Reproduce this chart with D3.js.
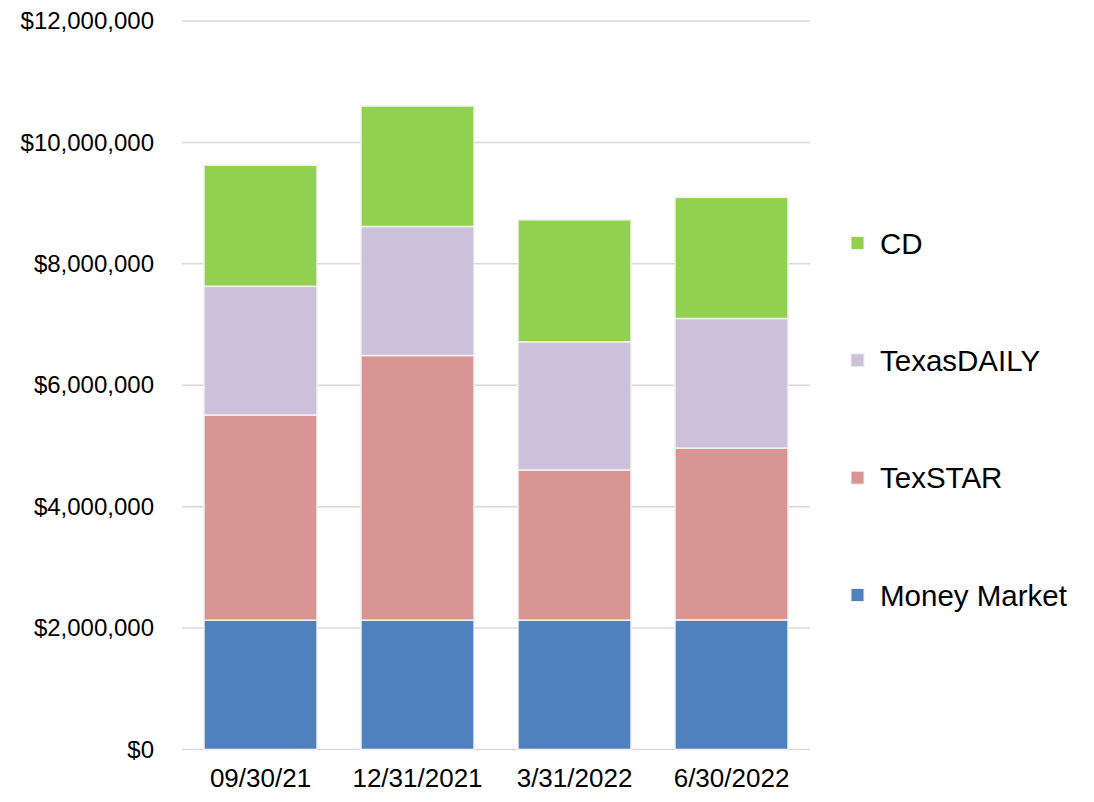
<!DOCTYPE html>
<html>
<head>
<meta charset="utf-8">
<script src="https://cdn.jsdelivr.net/npm/d3@7"></script>
<style>
  html, body { margin: 0; padding: 0; background: #ffffff; }
  svg { display: block; font-family: "Liberation Sans", Arial, sans-serif; }
</style>
</head>
<body>
<svg id="chart" width="1094" height="802"></svg>
<script>
// Quarter-end balances by investment type
const categories = ["09/30/21", "12/31/2021", "3/31/2022", "6/30/2022"];
const seriesNames = ["Money Market", "TexSTAR", "TexasDAILY", "CD"];
const moneyMarket = [2130000, 2130000, 2130000, 2135000];
const texStar     = [3380000, 4360000, 2475000, 2830000];
const texasDaily  = [2120000, 2125000, 2110000, 2135000];
const cd          = [1995000, 1985000, 2010000, 1995000];
const yTicks = [0, 2000000, 4000000, 6000000, 8000000, 10000000, 12000000];
const colors = ["#4f81bd", "#d99594", "#ccc1da", "#92d050"];

const seriesValues = [moneyMarket, texStar, texasDaily, cd];
const rows = categories.map((c, i) => {
  const r = { category: c };
  seriesNames.forEach((s, j) => { r[s] = seriesValues[j][i]; });
  return r;
});

const svg = d3.select("#chart");
const plot = { left: 182, right: 810, top: 21, bottom: 749.5 };

const x = d3.scaleBand().domain(categories).range([plot.left, plot.right]).paddingInner(0.28).paddingOuter(0.14);
const y = d3.scaleLinear().domain([0, 12000000]).range([plot.bottom, plot.top]);
const color = d3.scaleOrdinal().domain(seriesNames).range(colors);

// horizontal gridlines
svg.append("g")
  .selectAll("line")
  .data(yTicks)
  .join("line")
  .attr("x1", plot.left).attr("x2", plot.right)
  .attr("y1", d => y(d)).attr("y2", d => y(d))
  .attr("stroke", "#d9d9d9").attr("stroke-width", 1.5);

// y axis labels
const fmt = d => "$" + d3.format(",")(d);
const yAxis = svg.append("g")
  .attr("transform", `translate(${plot.left},0)`)
  .call(d3.axisLeft(y).tickValues(yTicks).tickFormat(fmt).tickSize(0).tickPadding(28));
yAxis.select(".domain").remove();
yAxis.selectAll("text").attr("font-size", 24).attr("fill", "#000")
  .attr("font-family", "Liberation Sans, Arial, sans-serif");

// stacked bars
const stacked = d3.stack().keys(seriesNames)(rows);
svg.append("g")
  .selectAll("g")
  .data(stacked)
  .join("g")
  .attr("fill", d => color(d.key))
  .selectAll("rect")
  .data(d => d)
  .join("rect")
  .attr("x", d => x(d.data.category))
  .attr("width", x.bandwidth())
  .attr("y", d => y(d[1]))
  .attr("height", d => y(d[0]) - y(d[1]))
  .attr("stroke", "#f2f2f2")
  .attr("stroke-width", 1.5);

// x axis labels
const xAxis = svg.append("g")
  .attr("transform", `translate(0,${plot.bottom})`)
  .call(d3.axisBottom(x).tickSize(0).tickPadding(19));
xAxis.select(".domain").remove();
xAxis.selectAll("text").attr("font-size", 26).attr("fill", "#000")
  .attr("font-family", "Liberation Sans, Arial, sans-serif");

// legend, top series first
const legendItems = seriesNames.slice().reverse();
const legendY = d3.scalePoint().domain(legendItems).range([243, 595]);
const legend = svg.append("g")
  .selectAll("g")
  .data(legendItems)
  .join("g")
  .attr("transform", d => `translate(851,${legendY(d)})`);
legend.append("rect")
  .attr("x", 0).attr("y", -6.5).attr("width", 13).attr("height", 13)
  .attr("fill", d => color(d)).attr("stroke", "#f2f2f2").attr("stroke-width", 1);
legend.append("text")
  .attr("x", 29).attr("y", 0).attr("dy", "0.36em")
  .attr("font-size", 29.5).attr("fill", "#000")
  .text(d => d);
</script>
</body>
</html>
